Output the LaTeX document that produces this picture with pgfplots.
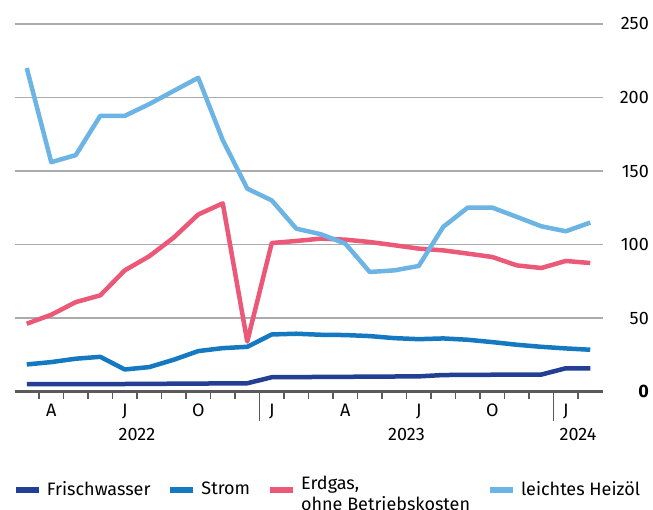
\documentclass[border=0pt]{standalone}
\usepackage{fontspec}
\setmainfont{Fira Sans}
\usepackage{pgfplots}
\pgfplotsset{compat=1.18}
\definecolor{cWasser}{HTML}{233F93}
\definecolor{cStrom}{HTML}{1479C0}
\definecolor{cGas}{HTML}{EB5878}
\definecolor{cOel}{HTML}{6CB4E4}
\definecolor{axgray}{HTML}{5A5A5A}
\definecolor{grgray}{HTML}{ABABAB}
\begin{document}
\fontsize{18bp}{21bp}\selectfont
\begin{tikzpicture}
\useasboundingbox (0,0) rectangle (653bp,510bp);
\begin{axis}[
  at={(14.5bp,118.5bp)}, anchor=south west,
  scale only axis, width=588bp, height=367.5bp,
  xmin=-0.5, xmax=23.5, ymin=0, ymax=250,
  clip=false,
  axis x line*=bottom, axis y line*=right,
  x axis line style={-, line width=2.5bp, draw=axgray},
  y axis line style={draw=none},
  ytick={0,50,100,150,200,250},
  yticklabels={\textbf{0},50,100,150,200,250},
  yticklabel style={anchor=east, inner sep=0pt, xshift=39bp},
  ytick style={draw=none},
  ymajorgrids, grid style={line width=1.5bp, draw=grgray},
  xtick={0.5,1.5,2.5,3.5,4.5,5.5,6.5,7.5,8.5,10.5,11.5,12.5,13.5,14.5,15.5,16.5,17.5,18.5,19.5,20.5,22.5},
  xticklabels={,,,,,,,,,,,,,,,,,,,,,,},
  extra x ticks={9.5,21.5},
  extra x tick labels={,,},
  extra x tick style={major tick length=29.5bp},
  tick align=outside,
  major tick length=7.5bp,
  xtick style={line width=1.5bp, draw=axgray},
  legend columns=4,
  legend cell align=left,
  legend style={draw=none, fill=none, inner sep=0pt, outer sep=0pt,
    at={(-0.0026,-0.268)}, anchor=west,
    nodes={inner sep=0pt},
    /tikz/every odd column/.append style={column sep=5bp},
    /tikz/every even column/.append style={column sep=17bp}},
  legend image code/.code={\draw[line width=6bp] (0bp,0bp) -- (23bp,0bp);},
  every axis plot/.append style={line width=4.5bp, line join=round},
]
\addplot[cWasser] coordinates {(0,5.0)(1,5.0)(2,5.0)(3,5.0)(4,5.1)(5,5.2)(6,5.3)(7,5.4)(8,5.5)(9,5.6)(10,9.7)(11,9.8)(12,9.9)(13,10.0)(14,10.1)(15,10.2)(16,10.3)(17,11.2)(18,11.3)(19,11.4)(20,11.5)(21,11.5)(22,15.8)(23,15.8)};
\addlegendentry{Frischwasser}
\addplot[cStrom] coordinates {(0,18.4)(1,20.0)(2,22.3)(3,23.6)(4,15.0)(5,16.6)(6,21.6)(7,27.5)(8,29.5)(9,30.4)(10,38.8)(11,39.3)(12,38.6)(13,38.4)(14,37.7)(15,36.3)(16,35.6)(17,36.1)(18,35.2)(19,33.6)(20,31.8)(21,30.4)(22,29.3)(23,28.4)};
\addlegendentry{Strom}
\addplot[cGas] coordinates {(0,46.1)(1,52.2)(2,60.8)(3,65.4)(4,82.4)(5,92.0)(6,104.7)(7,120.4)(8,128.0)(9,34.0)(10,101.0)(11,102.4)(12,104.0)(13,103.3)(14,101.7)(15,99.5)(16,97.2)(17,96.0)(18,93.8)(19,91.5)(20,85.8)(21,84.0)(22,88.8)(23,87.4)};
\addlegendentry{{\raisebox{-10bp}{\vbox{\hbox{Erdgas,}\hbox{ohne Betriebskosten}}}}}
\addplot[cOel] coordinates {(0,220)(1,156)(2,160.8)(3,187.5)(4,187.5)(5,195.5)(6,204.5)(7,213.4)(8,171)(9,138)(10,130)(11,110.8)(12,107)(13,100.6)(14,81.3)(15,82.4)(16,85.4)(17,112)(18,125.1)(19,125.1)(20,118.8)(21,112.4)(22,109)(23,114.9)};
\addlegendentry{leichtes Heizöl}
\foreach \m/\l in {1/A,4/J,7/O,10/J,13/A,16/J,19/O,22/J}{
  \edef\tmp{\noexpand\node[anchor=base, inner sep=0pt] at (axis cs:\m,0) [yshift=-25bp] {\l};}\tmp
}
\node[anchor=base, inner sep=0pt] at (axis cs:4.5,0) [yshift=-48.5bp] {2022};
\node[anchor=base, inner sep=0pt] at (axis cs:15.5,0) [yshift=-48.5bp] {2023};
\node[anchor=base, inner sep=0pt] at (axis cs:22.5,0) [yshift=-48.5bp] {2024};
\end{axis}
\end{tikzpicture}
\end{document}
